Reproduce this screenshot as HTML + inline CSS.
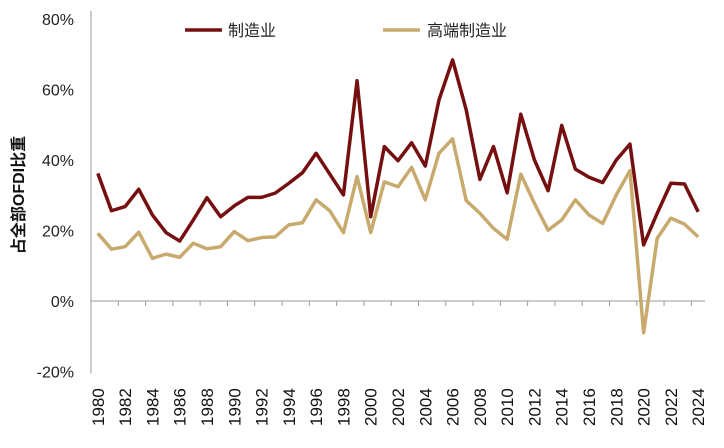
<!DOCTYPE html>
<html><head><meta charset="utf-8"><style>
body{margin:0;background:#fff;}
svg text{font-family:"Liberation Sans","Noto Sans CJK SC",sans-serif;}
</style></head><body>
<svg id="c" width="724" height="443" xmlns="http://www.w3.org/2000/svg">
<g id="axes"></g><g id="series"></g>
<g>
<line x1="185" y1="30" x2="222" y2="30" stroke="#760f10" stroke-width="3.5"/>
<text x="228" y="36" font-size="16" fill="#222">制造业</text>
<line x1="383" y1="30" x2="420" y2="30" stroke="#c8aa6e" stroke-width="3.5"/>
<text x="427" y="36" font-size="16" fill="#222">高端制造业</text>
</g>
<text transform="translate(24,195) rotate(-90)" text-anchor="middle" font-size="16" font-weight="bold" fill="#111">占全部OFDI比重</text>
</svg>
<script>
const years=[];for(let y=1980;y<=2024;y++)years.push(y);
const manufacturing=[36.2,25.6,26.8,31.7,24.4,19.4,17.0,23.0,29.3,23.9,27.0,29.4,29.4,30.6,33.4,36.4,41.9,36.0,30.1,62.5,23.9,43.8,39.8,44.9,38.3,57.0,68.4,54.2,34.5,43.8,30.7,53.0,40.0,31.3,49.8,37.4,35.1,33.6,40.0,44.5,15.9,24.9,33.4,33.2,25.3];
const highEnd=[19.2,14.7,15.4,19.5,12.1,13.3,12.4,16.4,14.8,15.4,19.7,17.1,18.0,18.2,21.6,22.2,28.7,25.6,19.4,35.3,19.4,33.8,32.4,37.9,28.7,41.9,46.0,28.5,24.9,20.6,17.5,36.0,27.7,20.1,23.0,28.7,24.4,22.0,30.1,37.0,-9.0,17.8,23.5,21.8,18.2];
const yTicks=[-20,0,20,40,60,80];
const NS="http://www.w3.org/2000/svg";
const x0=91,x1=705,y0=301,pxPer=70.5/20;
const step=(x1-x0)/years.length;
const xs=i=>x0+step*(i+0.5);
const ys=v=>y0-v*pxPer;
const axes=document.getElementById('axes'),series=document.getElementById('series');
function mk(tag,attrs,parent){const e=document.createElementNS(NS,tag);for(const k in attrs)e.setAttribute(k,attrs[k]);parent.appendChild(e);return e;}
let e=mk('line',{x1:x0,y1:ys(80)-8,x2:x0,y2:ys(-20)+2,stroke:'#999','stroke-width':1},axes);


e=mk('line',{x1:x0,y1:y0,x2:x1,y2:y0,stroke:'#999','stroke-width':1},axes);


yTicks.forEach(t=>{
 const tx=mk('text',{x:74,y:ys(t)+6,'text-anchor':'end','font-size':16,fill:'#222'},axes);
 tx.textContent=t+'%';
 
 
});
years.forEach((yr,i)=>{
 if(i%2===0&&i>0){
  const tk=mk('line',{x1:x0+step*i,y1:y0,x2:x0+step*i,y2:y0+5,stroke:'#999'},axes);
  
  
 }
 if(yr%2===0){
  const tx=mk('text',{transform:`translate(${xs(i)+6},${426}) rotate(-90)`,'font-size':17,fill:'#111'},axes);
  tx.textContent=yr;
  
  
 }
});
function line(vals,color,name){
 const p=mk('polyline',{points:vals.map((v,i)=>xs(i)+','+ys(v)).join(' '),fill:'none',stroke:color,'stroke-width':3.5,'stroke-linejoin':'round'},series);
 
 
}
line(highEnd,'#c8aa6e','high-end-manufacturing-line');
line(manufacturing,'#760f10','manufacturing-line');
</script>
</body></html>
